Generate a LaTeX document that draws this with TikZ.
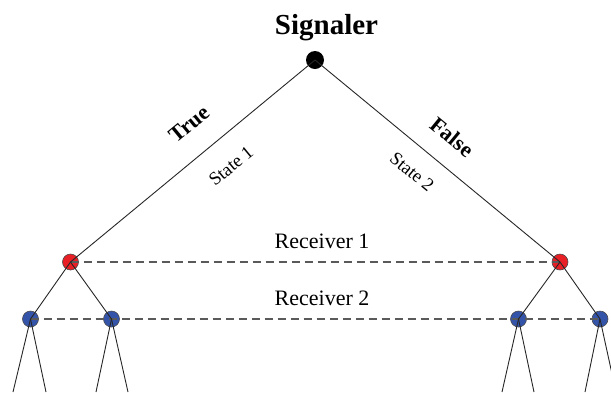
\documentclass[tikz,border=0pt]{standalone}
\usepackage{fontspec}
\setmainfont{Liberation Serif}
\definecolor{nodered}{RGB}{232,32,38}
\definecolor{nodeblue}{RGB}{52,84,170}
\definecolor{dashgray}{RGB}{90,90,90}
\begin{document}
\begin{tikzpicture}[x=1pt,y=-1pt,
  branch/.style={draw=black!85,line width=0.9pt},
  infoset/.style={draw=dashgray,line width=1.4pt,dash pattern=on 8pt off 5pt},
  rootdot/.style={circle,fill=black,inner sep=0pt,minimum size=18pt},
  rnode/.style={circle,draw=black!70,line width=0.6pt,fill=nodered,inner sep=0pt,minimum size=16pt},
  bnode/.style={circle,draw=black!70,line width=0.6pt,fill=nodeblue,inner sep=0pt,minimum size=16pt},
  lbl/.style={font=\fontsize{22}{26}\selectfont},
  bigbold/.style={font=\fontsize{22}{26}\selectfont\bfseries},
  small/.style={font=\fontsize{18.5}{22}\selectfont}]
\useasboundingbox (0,0) rectangle (611,392);
\node[rootdot] (S) at (315,60) {};
\node[rnode] (R1) at (70.5,262) {};
\node[rnode] (R2) at (560,262) {};
\node[bnode] (B1) at (30.5,319) {};
\node[bnode] (B2) at (111.5,319) {};
\node[bnode] (B3) at (518.5,319) {};
\node[bnode] (B4) at (600,319) {};
\coordinate (e1) at (13,392);
\coordinate (e2) at (46,392);
\coordinate (e3) at (96,392);
\coordinate (e4) at (128,392);
\coordinate (e5) at (502,392);
\coordinate (e6) at (534,392);
\coordinate (e7) at (585,392);
\coordinate (e8) at (616,392);
\draw[infoset] (R1.center) -- (R2.center);
\draw[infoset] (B1.center) -- (B4.center);
\draw[branch] (S.center) -- (R1.center);
\draw[branch] (S.center) -- (R2.center);
\draw[branch] (R1.center) -- (B1.center);
\draw[branch] (R1.center) -- (B2.center);
\draw[branch] (R2.center) -- (B3.center);
\draw[branch] (R2.center) -- (B4.center);
\draw[branch] (B1.center) -- (e1);
\draw[branch] (B1.center) -- (e2);
\draw[branch] (B2.center) -- (e3);
\draw[branch] (B2.center) -- (e4);
\draw[branch] (B3.center) -- (e5);
\draw[branch] (B3.center) -- (e6);
\draw[branch] (B4.center) -- (e7);
\draw[branch] (B4.center) -- (e8);
\node[font=\fontsize{29}{33}\selectfont\bfseries] (sig) at (326.5,28) {Signaler};
\node[bigbold,rotate=39.5] (tr) at (189,124) {True};
\node[bigbold,rotate=-39.5] (fa) at (452,137) {False};
\node[small,rotate=39.5] (s1) at (231,166) {State 1};
\node[small,rotate=-39.5] (s2) at (412,172) {State 2};
\node[lbl] (rc1) at (322,241) {Receiver 1};
\node[lbl] (rc2) at (322,298) {Receiver 2};
\end{tikzpicture}
\end{document}
